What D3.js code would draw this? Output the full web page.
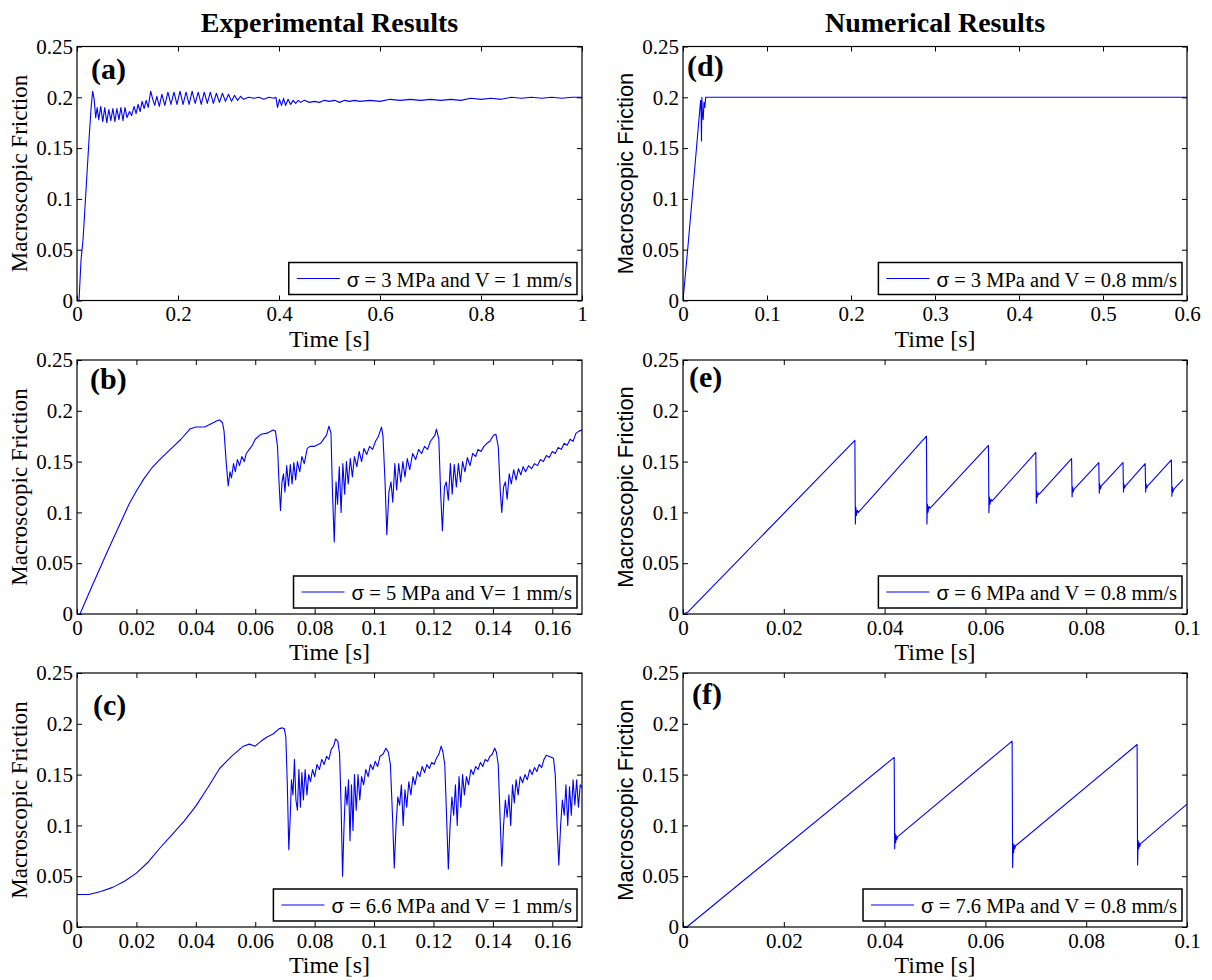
<!DOCTYPE html>
<html><head><meta charset="utf-8">
<script src="https://cdn.jsdelivr.net/npm/d3@7"></script>
<style>body{margin:0;background:#fff} svg{display:block}</style>
</head><body><svg id="c" width="1212" height="980"></svg>
<script>
// ---------- data ----------
const yTicks=[0,0.05,0.1,0.15,0.2,0.25];
const xTicksA=[0,0.2,0.4,0.6,0.8,1];
const xTicksB=[0,0.02,0.04,0.06,0.08,0.1,0.12,0.14,0.16];
const xTicksC=[0,0.02,0.04,0.06,0.08,0.1,0.12,0.14,0.16];
const xTicksD=[0,0.1,0.2,0.3,0.4,0.5,0.6];
const xTicksE=[0,0.02,0.04,0.06,0.08,0.1];
const xTicksF=[0,0.02,0.04,0.06,0.08,0.1];

const columnTitles=["Experimental Results","Numerical Results"];
const panelLabels=["(a)","(b)","(c)","(d)","(e)","(f)"];
const legendTexts=["σ = 3 MPa and V = 1 mm/s","σ = 5 MPa and V= 1 mm/s","σ = 6.6 MPa and V = 1 mm/s",
  "σ = 3 MPa and V = 0.8 mm/s","σ = 6 MPa and V = 0.8 mm/s","σ = 7.6 MPa and V = 0.8 mm/s"];
const xLabel="Time [s]", yLabel="Macroscopic Friction";

const seriesA=[[0.004,0],[0.008,0.04],[0.012,0.06],[0.018,0.11],[0.024,0.16],[0.028,0.19],[0.031,0.206],[0.034,0.198],[0.037,0.18],[0.040,0.19],[0.043,0.178],[0.047,0.191],[0.051,0.176],[0.055,0.19],[0.059,0.175],[0.063,0.188],[0.067,0.177],[0.071,0.189],[0.075,0.176],[0.079,0.189],[0.083,0.178],[0.087,0.19],[0.091,0.177],[0.095,0.19],[0.099,0.18],[0.104,0.186],[0.108,0.182],[0.113,0.191],[0.117,0.184],[0.121,0.193],[0.125,0.186],[0.129,0.196],[0.133,0.189],[0.137,0.197],[0.141,0.19],[0.146,0.206],[0.150,0.198],[0.154,0.192],[0.158,0.201],[0.163,0.191],[0.168,0.203],[0.174,0.192],[0.180,0.205],[0.186,0.193],[0.192,0.205],[0.198,0.193],[0.204,0.206],[0.210,0.193],[0.216,0.205],[0.222,0.193],[0.228,0.206],[0.234,0.194],[0.240,0.205],[0.246,0.193],[0.252,0.205],[0.258,0.194],[0.264,0.205],[0.270,0.194],[0.276,0.204],[0.282,0.195],[0.288,0.204],[0.294,0.196],[0.300,0.203],[0.306,0.196],[0.312,0.202],[0.318,0.197],[0.324,0.201],[0.330,0.198],[0.340,0.2],[0.350,0.199],[0.360,0.2],[0.370,0.198],[0.380,0.2],[0.390,0.199],[0.394,0.2],[0.397,0.19],[0.401,0.198],[0.405,0.192],[0.409,0.199],[0.413,0.192],[0.418,0.198],[0.423,0.193],[0.428,0.197],[0.433,0.194],[0.438,0.197],[0.443,0.195],[0.45,0.197],[0.46,0.195],[0.47,0.196],[0.48,0.195],[0.49,0.197],[0.5,0.196],[0.51,0.197],[0.52,0.195],[0.53,0.197],[0.54,0.196],[0.55,0.197],[0.56,0.196],[0.58,0.197],[0.6,0.196],[0.62,0.198],[0.64,0.197],[0.66,0.198],[0.68,0.197],[0.7,0.198],[0.72,0.197],[0.74,0.198],[0.76,0.197],[0.78,0.199],[0.8,0.198],[0.82,0.199],[0.84,0.198],[0.86,0.2],[0.88,0.199],[0.9,0.2],[0.92,0.199],[0.94,0.2],[0.96,0.199],[0.98,0.2],[1.0,0.2]];

const seriesB=[[0.001,0],[0.005,0.027],[0.01,0.06],[0.015,0.092],[0.0175,0.108],[0.02,0.121],[0.0225,0.133],[0.025,0.143],[0.0275,0.151],[0.03,0.158],[0.0325,0.165],[0.035,0.172],[0.038,0.182],[0.04,0.184],[0.043,0.184],[0.045,0.187],[0.047,0.19],[0.048,0.191],[0.049,0.188],[0.0495,0.18],[0.0502,0.15],[0.0509,0.126],[0.0515,0.14],[0.052,0.134],[0.0527,0.148],[0.0533,0.14],[0.054,0.152],[0.0547,0.146],[0.0555,0.155],[0.0563,0.15],[0.057,0.158],[0.058,0.162],[0.059,0.166],[0.06,0.172],[0.062,0.177],[0.064,0.178],[0.066,0.181],[0.0668,0.18],[0.0675,0.165],[0.068,0.13],[0.0685,0.102],[0.069,0.13],[0.0695,0.138],[0.07,0.12],[0.0706,0.146],[0.0712,0.126],[0.0718,0.147],[0.0724,0.128],[0.073,0.149],[0.0736,0.132],[0.0742,0.15],[0.075,0.14],[0.0757,0.155],[0.0765,0.148],[0.0775,0.163],[0.0785,0.165],[0.08,0.165],[0.082,0.168],[0.084,0.176],[0.0848,0.185],[0.0855,0.178],[0.086,0.12],[0.0866,0.071],[0.0872,0.13],[0.0877,0.108],[0.0883,0.145],[0.0889,0.1],[0.0895,0.148],[0.0901,0.118],[0.0907,0.15],[0.0913,0.128],[0.092,0.153],[0.0927,0.135],[0.0934,0.155],[0.0942,0.145],[0.095,0.16],[0.0958,0.15],[0.0966,0.163],[0.0975,0.157],[0.0985,0.165],[0.0995,0.162],[0.1005,0.17],[0.1015,0.175],[0.1025,0.184],[0.103,0.175],[0.1037,0.13],[0.1043,0.078],[0.105,0.12],[0.1057,0.13],[0.1063,0.11],[0.107,0.148],[0.1076,0.122],[0.1083,0.148],[0.109,0.13],[0.1097,0.15],[0.1104,0.135],[0.1112,0.153],[0.112,0.142],[0.113,0.158],[0.114,0.152],[0.115,0.162],[0.116,0.158],[0.117,0.165],[0.118,0.162],[0.119,0.17],[0.1205,0.176],[0.121,0.182],[0.1218,0.172],[0.1224,0.12],[0.123,0.082],[0.1237,0.125],[0.1243,0.13],[0.125,0.112],[0.1257,0.148],[0.1263,0.118],[0.127,0.147],[0.1277,0.125],[0.1284,0.148],[0.1291,0.13],[0.1298,0.15],[0.1306,0.14],[0.1314,0.154],[0.1323,0.146],[0.1332,0.158],[0.1342,0.155],[0.135,0.162],[0.136,0.16],[0.137,0.165],[0.138,0.168],[0.139,0.17],[0.1402,0.176],[0.141,0.177],[0.1418,0.165],[0.1425,0.12],[0.143,0.1],[0.1436,0.125],[0.1442,0.13],[0.1448,0.113],[0.1455,0.138],[0.1462,0.128],[0.147,0.142],[0.1478,0.132],[0.1486,0.143],[0.1494,0.137],[0.1502,0.145],[0.151,0.14],[0.152,0.146],[0.153,0.143],[0.154,0.148],[0.155,0.146],[0.156,0.152],[0.157,0.15],[0.158,0.156],[0.159,0.154],[0.16,0.16],[0.161,0.158],[0.162,0.164],[0.163,0.162],[0.164,0.168],[0.165,0.166],[0.166,0.172],[0.167,0.17],[0.168,0.178],[0.169,0.18],[0.17,0.181]];

const seriesC=[[0,0.032],[0.004,0.032],[0.008,0.035],[0.012,0.039],[0.016,0.045],[0.02,0.053],[0.024,0.064],[0.028,0.078],[0.032,0.091],[0.036,0.104],[0.04,0.119],[0.044,0.137],[0.048,0.156],[0.052,0.168],[0.056,0.178],[0.058,0.18],[0.06,0.178],[0.062,0.183],[0.064,0.187],[0.066,0.19],[0.068,0.195],[0.069,0.196],[0.0698,0.195],[0.0703,0.187],[0.0708,0.14],[0.0713,0.076],[0.0718,0.11],[0.0722,0.145],[0.0727,0.13],[0.0732,0.165],[0.0737,0.125],[0.0742,0.115],[0.0747,0.155],[0.0752,0.118],[0.0757,0.152],[0.0762,0.125],[0.0768,0.155],[0.0774,0.13],[0.078,0.15],[0.0786,0.143],[0.0793,0.155],[0.08,0.148],[0.0808,0.16],[0.0816,0.155],[0.0824,0.165],[0.0832,0.16],[0.084,0.168],[0.0848,0.165],[0.0856,0.175],[0.0864,0.178],[0.087,0.185],[0.0878,0.183],[0.0884,0.17],[0.0889,0.12],[0.0894,0.05],[0.0899,0.1],[0.0904,0.138],[0.0909,0.12],[0.0914,0.145],[0.0919,0.085],[0.0924,0.14],[0.0929,0.095],[0.0934,0.15],[0.094,0.115],[0.0946,0.15],[0.0952,0.125],[0.0958,0.148],[0.0965,0.14],[0.0972,0.155],[0.098,0.148],[0.0988,0.16],[0.0996,0.155],[0.1004,0.163],[0.1012,0.158],[0.102,0.168],[0.103,0.17],[0.104,0.176],[0.1048,0.172],[0.1055,0.16],[0.1062,0.11],[0.1068,0.058],[0.1074,0.1],[0.108,0.128],[0.1086,0.12],[0.1092,0.14],[0.1098,0.1],[0.1104,0.135],[0.111,0.118],[0.1117,0.143],[0.1124,0.13],[0.1131,0.148],[0.1138,0.14],[0.1146,0.153],[0.1154,0.148],[0.1162,0.158],[0.117,0.152],[0.1178,0.16],[0.1186,0.156],[0.1194,0.162],[0.1202,0.16],[0.121,0.166],[0.1218,0.17],[0.1226,0.178],[0.1232,0.172],[0.1238,0.16],[0.1244,0.11],[0.125,0.057],[0.1256,0.1],[0.1262,0.128],[0.1268,0.11],[0.1274,0.14],[0.128,0.1],[0.1286,0.148],[0.1292,0.118],[0.1298,0.15],[0.1304,0.13],[0.1311,0.148],[0.1318,0.14],[0.1326,0.155],[0.1334,0.15],[0.1342,0.158],[0.135,0.155],[0.1358,0.162],[0.1366,0.158],[0.1374,0.165],[0.1382,0.163],[0.139,0.168],[0.1398,0.17],[0.1406,0.176],[0.1412,0.172],[0.1418,0.16],[0.1424,0.11],[0.143,0.06],[0.1436,0.1],[0.1442,0.125],[0.1448,0.108],[0.1454,0.13],[0.146,0.1],[0.1466,0.14],[0.1472,0.122],[0.1478,0.145],[0.1485,0.13],[0.1492,0.148],[0.15,0.142],[0.1508,0.15],[0.1516,0.145],[0.1524,0.155],[0.1532,0.15],[0.154,0.157],[0.1548,0.153],[0.1556,0.16],[0.1564,0.157],[0.1572,0.165],[0.158,0.169],[0.1588,0.168],[0.1596,0.167],[0.1604,0.166],[0.161,0.15],[0.1616,0.1],[0.1622,0.061],[0.1628,0.1],[0.1634,0.125],[0.164,0.11],[0.1646,0.14],[0.1652,0.1],[0.1658,0.138],[0.1664,0.11],[0.167,0.145],[0.1676,0.12],[0.1682,0.145],[0.1688,0.118],[0.1694,0.14],[0.17,0.137]];

const seriesD=[[0,0],[0.005,0.045],[0.01,0.092],[0.015,0.14],[0.02,0.188],[0.021,0.197],[0.0215,0.19],[0.022,0.157],[0.0225,0.2],[0.023,0.185],[0.024,0.178],[0.025,0.195],[0.026,0.19],[0.027,0.2],[0.028,0.2],[0.6,0.2]];

const seriesE=[[0,0],[0.001,0.002],[0.0341,0.171],[0.0342,0.0886],[0.0343,0.105],[0.0344,0.097],[0.0346,0.102],[0.0348,0.1],[0.0483,0.175],[0.0484,0.0886],[0.0485,0.108],[0.0486,0.1],[0.0488,0.106],[0.049,0.104],[0.0606,0.166],[0.0607,0.0997],[0.0608,0.115],[0.0609,0.108],[0.0611,0.113],[0.0613,0.111],[0.07,0.159],[0.0701,0.109],[0.0702,0.121],[0.0703,0.115],[0.0705,0.119],[0.0707,0.118],[0.0771,0.153],[0.0772,0.1155],[0.0773,0.125],[0.0774,0.12],[0.0776,0.123],[0.0825,0.149],[0.0826,0.119],[0.0827,0.128],[0.0828,0.123],[0.083,0.126],[0.0873,0.149],[0.0874,0.12],[0.0875,0.128],[0.0876,0.124],[0.0878,0.126],[0.0917,0.148],[0.0918,0.12],[0.0919,0.128],[0.092,0.124],[0.0922,0.126],[0.0969,0.1516],[0.097,0.116],[0.0971,0.125],[0.0972,0.12],[0.0974,0.123],[0.0992,0.1325]];

const seriesF=[[0,0],[0.001,0.001],[0.0419,0.167],[0.042,0.077],[0.0421,0.092],[0.0422,0.083],[0.0423,0.09],[0.0424,0.086],[0.0426,0.089],[0.0653,0.183],[0.0654,0.0586],[0.0655,0.082],[0.0656,0.073],[0.0657,0.081],[0.0658,0.077],[0.066,0.08],[0.0901,0.1796],[0.0902,0.061],[0.0903,0.085],[0.0904,0.077],[0.0905,0.083],[0.0906,0.079],[0.0908,0.082],[0.1,0.121]];

// ---------- layout ----------
const SERIF="'Liberation Serif','Times New Roman',serif";
const SANS="'Liberation Sans',Arial,sans-serif";
const cols=[{l:77,r:582,ylabFont:SERIF,ylabSize:23},{l:683,r:1187,ylabFont:SANS,ylabSize:22}];
const rows=[46.5,360,673];
const PH=254;

const panels=[
 {data:seriesA,xmax:1,xt:xTicksA,col:0,row:0,lab:0,lx:14,ly:32},
 {data:seriesB,xmax:0.17,xt:xTicksB,col:0,row:1,lab:1,lx:13,ly:29},
 {data:seriesC,xmax:0.17,xt:xTicksC,col:0,row:2,lab:2,lx:16,ly:42},
 {data:seriesD,xmax:0.6,xt:xTicksD,col:1,row:0,lab:3,lx:4,ly:29},
 {data:seriesE,xmax:0.1,xt:xTicksE,col:1,row:1,lab:4,lx:6,ly:27},
 {data:seriesF,xmax:0.1,xt:xTicksF,col:1,row:2,lab:5,lx:9,ly:31}
];

const svg=d3.select('#c');
svg.append('rect').attr('width',1212).attr('height',980).attr('fill','#fff');

columnTitles.forEach((t,i)=>{
  svg.append('text').attr('x',(cols[i].l+cols[i].r)/2).attr('y',32)
    .attr('text-anchor','middle').attr('font-family',SERIF).attr('font-weight','bold')
    .attr('font-size',28).text(t);
});

const fmt=d3.format('~g');

panels.forEach((p,pi)=>{
  const c=cols[p.col];
  const w=c.r-c.l, h=PH;
  const g=svg.append('g').attr('transform',`translate(${c.l},${rows[p.row]})`);
  const x=d3.scaleLinear().domain([0,p.xmax]).range([0,w]);
  const y=d3.scaleLinear().domain([0,0.25]).range([h,0]);

  g.append('clipPath').attr('id','clip'+pi).append('rect').attr('width',w).attr('height',h);

  g.append('path').datum(p.data)
    .attr('d',d3.line().x(d=>x(d[0])).y(d=>y(d[1])))
    .attr('fill','none').attr('stroke','#0000ff').attr('stroke-width',1.1)
    .attr('stroke-linejoin','round')
    .attr('clip-path',`url(#clip${pi})`);

  const styleAxis=sel=>{
    sel.select('.domain').remove();
    sel.attr('font-family',SERIF).attr('font-size',21);
    sel.selectAll('line').attr('stroke','#000');
    sel.selectAll('text').attr('fill','#000');
  };
  g.append('g').attr('transform',`translate(0,${h})`)
    .call(d3.axisBottom(x).tickValues(p.xt).tickFormat(fmt).tickSizeInner(-5).tickSizeOuter(0).tickPadding(6))
    .call(styleAxis);
  g.append('g')
    .call(d3.axisTop(x).tickValues(p.xt).tickFormat('').tickSizeInner(-5).tickSizeOuter(0))
    .call(styleAxis);
  g.append('g')
    .call(d3.axisLeft(y).tickValues(yTicks).tickFormat(fmt).tickSizeInner(-5).tickSizeOuter(0).tickPadding(4))
    .call(styleAxis);
  g.append('g').attr('transform',`translate(${w},0)`)
    .call(d3.axisRight(y).tickValues(yTicks).tickFormat('').tickSizeInner(-5).tickSizeOuter(0))
    .call(styleAxis);

  g.append('rect').attr('width',w).attr('height',h).attr('fill','none')
    .attr('stroke','#000').attr('stroke-width',1.2);

  g.append('text').attr('x',w/2).attr('y',h+46).attr('text-anchor','middle')
    .attr('font-family',SERIF).attr('font-size',24).text(xLabel);
  g.append('text').attr('transform',`translate(-50,${h/2}) rotate(-90)`)
    .attr('text-anchor','middle').attr('font-family',c.ylabFont).attr('font-size',c.ylabSize).text(yLabel);

  g.append('text').attr('x',p.lx).attr('y',p.ly).attr('font-family',SERIF)
    .attr('font-weight','bold').attr('font-size',30).text(panelLabels[p.lab]);

  const lg=g.append('g');
  const txt=legendTexts[p.lab];
  const t=lg.append('text').attr('y',h-14).attr('font-family',SERIF).attr('font-size',20.5);
  t.append('tspan').attr('font-family',SANS).text(txt[0]);
  t.append('tspan').text(txt.slice(1));
  const len=t.node().getComputedTextLength();
  const tx=w-10-len;
  t.attr('x',tx);
  const bx=tx-58, by=h-38, bw=w-5-bx, bh=32;
  lg.insert('rect','text').attr('x',bx).attr('y',by).attr('width',bw).attr('height',bh)
    .attr('fill','#fff').attr('stroke','#000').attr('stroke-width',1.5);
  lg.append('line').attr('x1',tx-50).attr('x2',tx-7).attr('y1',by+bh/2).attr('y2',by+bh/2)
    .attr('stroke','#0000ff').attr('stroke-width',1.1);
});
</script></body></html>
